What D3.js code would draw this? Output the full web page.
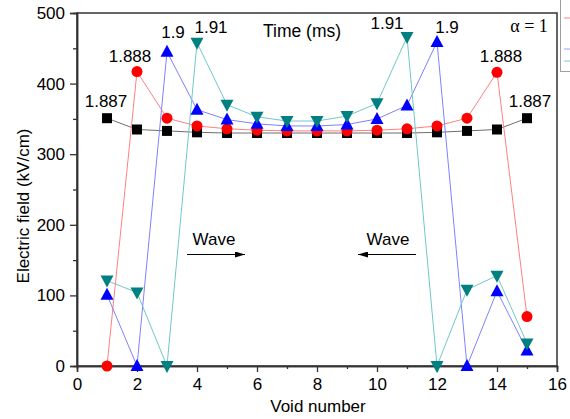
<!DOCTYPE html>
<html>
<head>
<meta charset="utf-8">
<script src="https://cdn.jsdelivr.net/npm/d3@7"></script>
<style>
  body { margin: 0; background: #fff; }
  svg text { font-family: "Liberation Sans", Arial, sans-serif; }
</style>
</head>
<body>
<svg id="chart" width="570" height="419"></svg>
<script>
// void positions along the gap
var voids = [1, 2, 3, 4, 5, 6, 7, 8, 9, 10, 11, 12, 13, 14, 15];

// field (kV/cm) at each void, one list per time
var field1887 = [351, 335, 333, 331, 330, 330, 330, 330, 330, 330, 330, 331, 333, 335, 351];
var field1888 = [0, 417, 351, 340, 336, 334, 333, 333, 333, 334, 336, 340, 351, 416, 70];
var field19   = [101, 0, 445, 363, 349, 343, 340, 340, 342, 350, 369, 459, 0, 106, 22];
var field191  = [121, 104, 0, 458, 370, 353, 347, 347, 354, 372, 466, 0, 108, 128, 32];

var seriesNames = ["1.887", "1.888", "1.9", "1.91"];
var xTicks = [0, 2, 4, 6, 8, 10, 12, 14, 16];
var yTicks = [0, 100, 200, 300, 400, 500];

var series = [
  {name: seriesNames[0], values: field1887, color: "#000000", line: "#6e6e6e", shape: "square"},
  {name: seriesNames[1], values: field1888, color: "#ff0000", line: "#ff8080", shape: "circle"},
  {name: seriesNames[2], values: field19,   color: "#0000ff", line: "#8080ff", shape: "up"},
  {name: seriesNames[3], values: field191,  color: "#008080", line: "#70c8c8", shape: "down"}
];

var svg = d3.select("#chart");
var margin = {left: 77, right: 13, top: 13, bottom: 53};
var W = 570, H = 419;

var x = d3.scaleLinear().domain([0, 16]).range([margin.left, W - margin.right]);
var y = d3.scaleLinear().domain([0, 500]).range([H - margin.bottom, margin.top]);

// legend box cut off at the right edge
var lg = svg.append("g");
lg.append("rect").attr("x", 560.5).attr("y", -2).attr("width", 20).attr("height", 73.5)
  .attr("fill", "#fff").attr("stroke", "#a0a0a0");
[["#ff8080", 18], ["#a0a0ff", 49], ["#80c8c8", 61]].forEach(function(d) {
  lg.append("line").attr("x1", 564).attr("x2", 572).attr("y1", d[1]).attr("y2", d[1])
    .attr("stroke", d[0]).attr("stroke-width", 1);
});

// frame
svg.append("rect")
  .attr("x", x(0)).attr("y", y(500))
  .attr("width", x(16) - x(0)).attr("height", y(0) - y(500))
  .attr("fill", "none").attr("stroke", "#333").attr("stroke-width", 1.5);

// axes
var xAxis = d3.axisBottom(x).tickValues(xTicks).tickSize(6).tickPadding(6).tickFormat(d3.format("d"));
var xMinor = d3.axisBottom(x).tickValues(d3.range(1, 16, 2)).tickSize(3).tickFormat("");
var yAxis = d3.axisLeft(y).tickValues(yTicks).tickSize(7).tickPadding(5).tickFormat(d3.format("d"));
var yMinor = d3.axisLeft(y).tickValues(d3.range(50, 500, 100)).tickSize(4).tickFormat("");

function styleAxis(g) {
  g.select(".domain").attr("stroke", "#333").attr("stroke-width", 1.5);
  g.selectAll(".tick line").attr("stroke", "#333").attr("stroke-width", 1.3);
  g.selectAll("text").attr("font-size", 17).attr("fill", "#000")
    .attr("font-family", "Liberation Sans, Arial, sans-serif");
}

svg.append("g").attr("transform", "translate(0," + y(0) + ")").call(xAxis).call(styleAxis);
svg.append("g").attr("transform", "translate(0," + y(0) + ")").call(xMinor).call(styleAxis);
svg.append("g").attr("transform", "translate(" + x(0) + ",0)").call(yAxis).call(styleAxis);
svg.append("g").attr("transform", "translate(" + x(0) + ",0)").call(yMinor).call(styleAxis);

// axis titles
svg.append("text").attr("x", 318).attr("y", 412).attr("text-anchor", "middle")
  .attr("font-size", 17).text("Void number");
svg.append("text").attr("transform", "translate(29,206) rotate(-90)").attr("text-anchor", "middle")
  .attr("font-size", 17).text("Electric field  (kV/cm)");

// lines + markers
var line = d3.line().x(function(d, i) { return x(voids[i]); }).y(function(d) { return y(d); });

series.forEach(function(s) {
  svg.append("path").datum(s.values).attr("d", line)
    .attr("fill", "none").attr("stroke", s.line).attr("stroke-width", 1);
});

series.forEach(function(s) {
  var g = svg.append("g");
  s.values.forEach(function(v, i) {
    var cx = x(voids[i]), cy = y(v);
    if (s.shape === "square") {
      g.append("rect").attr("x", cx - 5).attr("y", cy - 5).attr("width", 10).attr("height", 10).attr("fill", s.color);
    } else if (s.shape === "circle") {
      g.append("circle").attr("cx", cx).attr("cy", cy).attr("r", 5.5).attr("fill", s.color);
    } else if (s.shape === "up") {
      g.append("path").attr("d", "M" + cx + "," + (cy - 7) + "L" + (cx + 6.5) + "," + (cy + 5) + "L" + (cx - 6.5) + "," + (cy + 5) + "Z")
        .attr("fill", s.color);
    } else {
      g.append("path").attr("d", "M" + cx + "," + (cy + 7) + "L" + (cx + 6.5) + "," + (cy - 5) + "L" + (cx - 6.5) + "," + (cy - 5) + "Z")
        .attr("fill", s.color);
    }
  });
});

// time labels near peaks
var labels = [
  {t: seriesNames[0], x: 106, y: 107}, {t: seriesNames[0], x: 530, y: 107},
  {t: seriesNames[1], x: 130, y: 62},  {t: seriesNames[1], x: 501, y: 62},
  {t: seriesNames[2], x: 173, y: 38},  {t: seriesNames[2], x: 447, y: 33},
  {t: seriesNames[3], x: 211, y: 33},  {t: seriesNames[3], x: 387, y: 29}
];
labels.forEach(function(l) {
  svg.append("text").attr("x", l.x).attr("y", l.y).attr("text-anchor", "middle")
    .attr("font-size", 17).text(l.t);
});

svg.append("text").attr("x", 302).attr("y", 37).attr("text-anchor", "middle")
  .attr("font-size", 17.5).text("Time (ms)");
svg.append("text").attr("x", 529).attr("y", 32).attr("text-anchor", "middle")
  .attr("font-size", 18).style("font-family", "Liberation Serif, Times New Roman, serif").text("\u03b1 = 1");

// wave arrows
svg.append("defs").append("marker").attr("id", "head")
  .attr("viewBox", "0 0 10 6").attr("refX", 10).attr("refY", 3)
  .attr("markerWidth", 10).attr("markerHeight", 6).attr("markerUnits", "userSpaceOnUse")
  .attr("orient", "auto")
  .append("path").attr("d", "M0,0L10,3L0,6Z").attr("fill", "#000");

svg.append("text").attr("x", 214).attr("y", 245).attr("text-anchor", "middle").attr("font-size", 17).text("Wave");
svg.append("line").attr("x1", 187).attr("x2", 245).attr("y1", 254.5).attr("y2", 254.5)
  .attr("stroke", "#000").attr("stroke-width", 1).attr("marker-end", "url(#head)");
svg.append("text").attr("x", 388).attr("y", 245).attr("text-anchor", "middle").attr("font-size", 17).text("Wave");
svg.append("line").attr("x1", 416).attr("x2", 358).attr("y1", 254.5).attr("y2", 254.5)
  .attr("stroke", "#000").attr("stroke-width", 1).attr("marker-end", "url(#head)");
</script>
</body>
</html>
